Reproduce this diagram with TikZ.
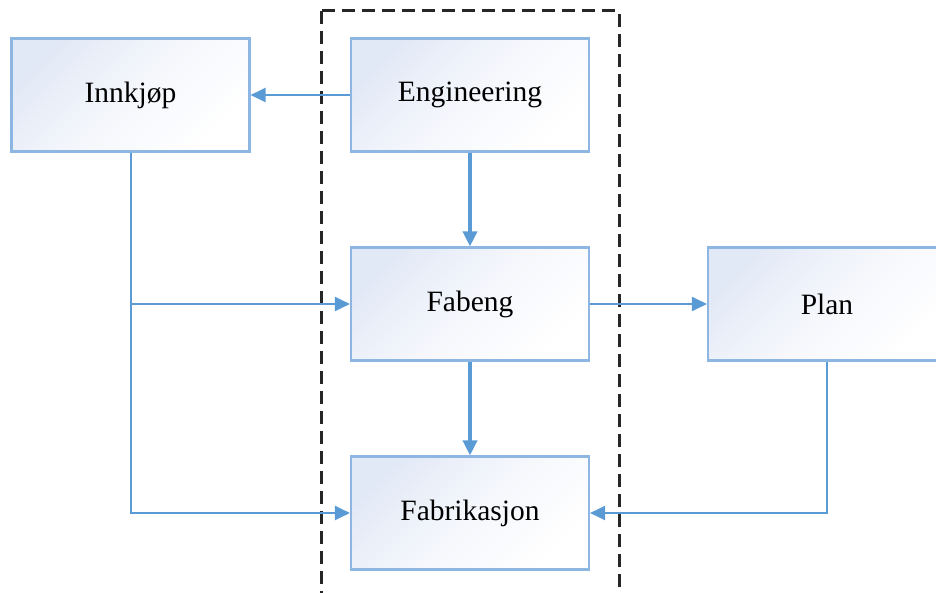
\documentclass[tikz,border=0pt]{standalone}
\usepackage{fontspec}
\setmainfont{Liberation Serif}
\usetikzlibrary{arrows.meta}
\definecolor{flow}{HTML}{5B9BD5}
\definecolor{frame}{HTML}{8DB6E2}
\definecolor{tint}{HTML}{E2E9F6}
\definecolor{tintmid}{HTML}{F5F7FC}
\tikzset{
  unit/.style={draw=frame, line width=2.1pt, minimum width=238pt, minimum height=113pt,
    inner sep=0pt, top color=tint, bottom color=white, middle color=tintmid, shading angle=45,
    font=\fontsize{29.5}{32}\selectfont, text=black},
  link/.style={draw=flow, line width=2pt, -{Triangle[length=15pt,width=14pt]}},
  mainlink/.style={link, line width=3.5pt},
  group/.style={draw=black!85, line width=3pt, dash pattern=on 13pt off 7pt}
}
\begin{document}
\begin{tikzpicture}[x=1pt, y=-1pt]
  \useasboundingbox (0,0) rectangle (936,593);
  \clip (0,0) rectangle (936,593);
  % department boxes
  \node[unit] (inn)  at (130.5,95)  {Innkjøp};
  \node[unit] (eng)  at (470,95)    {Engineering};
  \node[unit] (fab)  at (470,304)   {Fabeng};
  \node[unit] (plan) at (827,304)   {Plan};
  \node[unit] (fabr) at (470,513)   {Fabrikasjon};
  % engineering column
  \draw[group] (321,11) rectangle (619,640);
  % information flow
  \draw[link] (eng.west) -- (inn.east);
  \draw[mainlink] (eng.south) -- (fab.north);
  \draw[mainlink] (fab.south) -- (fabr.north);
  \draw[link] (fab.east) -- (plan.west);
  \draw[link] (inn.south) |- (fab.west);
  \draw[link] (inn.south) |- (fabr.west);
  \draw[link] (plan.south) |- (fabr.east);
\end{tikzpicture}
\end{document}
